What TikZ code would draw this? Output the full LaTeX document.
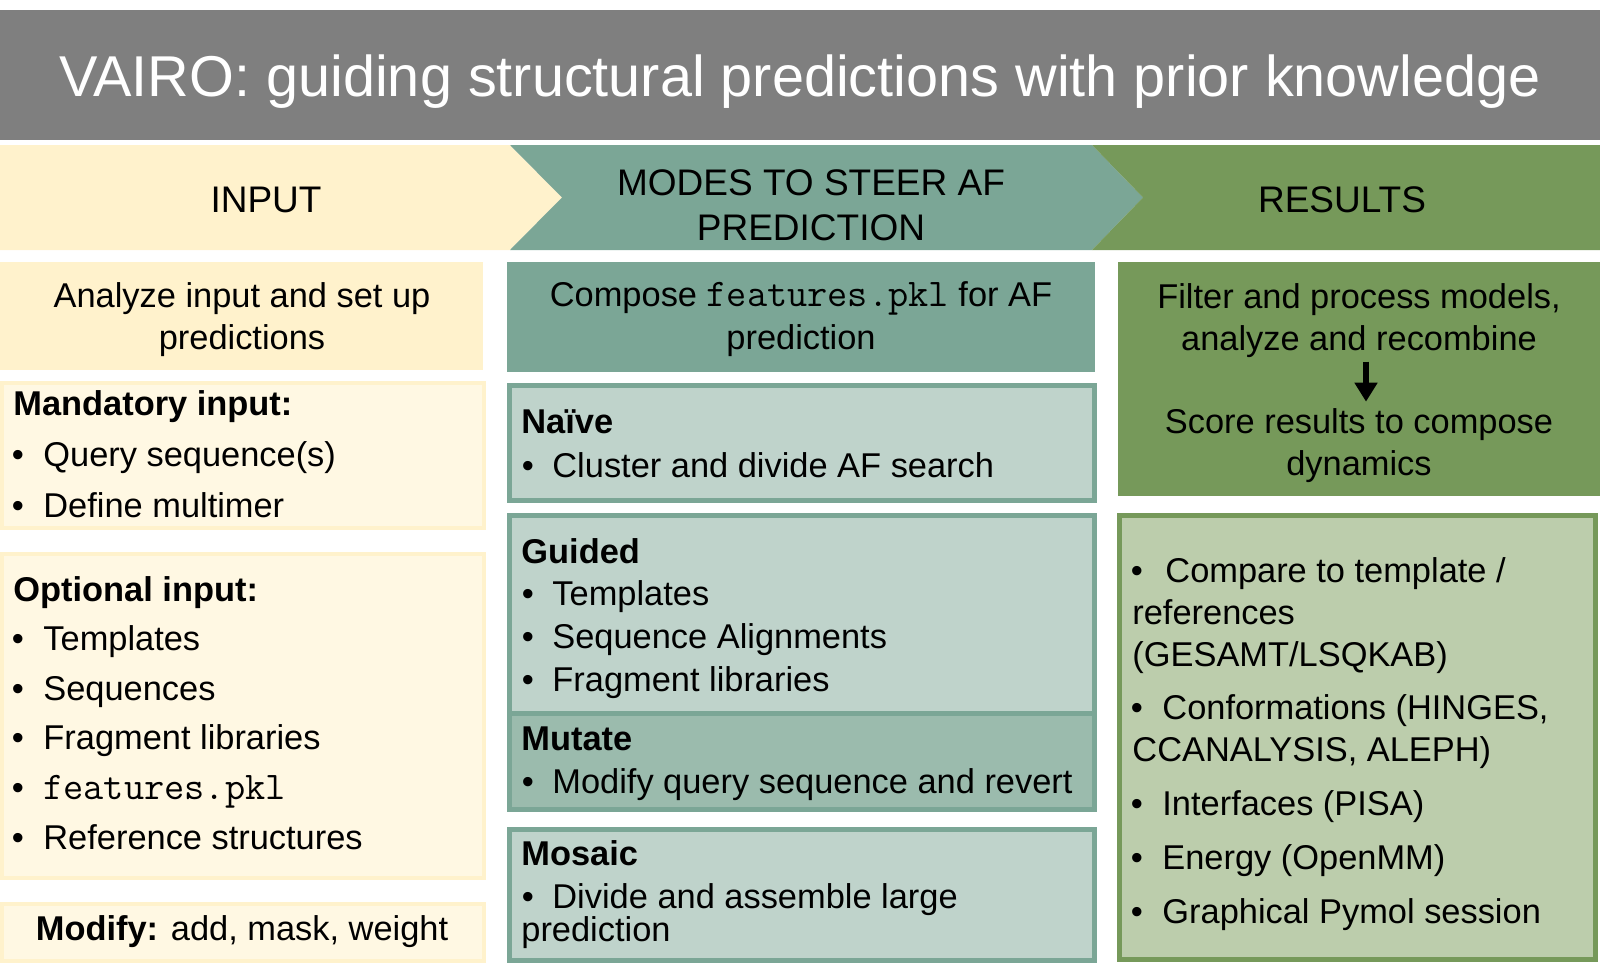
\documentclass[tikz,border=0pt]{standalone}
\usepackage{fontspec}
\setmainfont{Liberation Sans}
\usetikzlibrary{calc, arrows.meta, positioning}

\definecolor{titlegray}{HTML}{7F7F7F}
\definecolor{inyellow}{HTML}{FFF2CC}
\definecolor{paleyellow}{HTML}{FFF8E3}
\definecolor{modeteal}{HTML}{7BA696}
\definecolor{lightteal}{HTML}{BFD3CB}
\definecolor{midteal}{HTML}{9BBBAD}
\definecolor{resgreen}{HTML}{76995A}
\definecolor{lightgreen}{HTML}{BCCDAC}

\newcommand{\bodyfont}{\fontsize{17.2pt}{20.6pt}\selectfont}
\newcommand{\headfont}{\fontsize{18.5pt}{22pt}\selectfont}
\newcommand{\titlefont}{\fontsize{28.8pt}{34pt}\selectfont}
\newcommand{\pkl}{{\fontsize{19.6pt}{20pt}\ttfamily features.pkl}}

\begin{document}
\begin{tikzpicture}[
    x=0.5pt, y=-0.5pt,
    >=Stealth,
    every node/.style={inner sep=0pt, font=\bodyfont},
    txt/.style={anchor=base west},
    ctr/.style={anchor=base},
    bul/.style={anchor=base},
    bold/.style={anchor=base west, font=\bodyfont\bfseries},
    yframe/.style={fill=paleyellow, draw=inyellow, line width=2pt},
    tframe/.style={fill=lightteal, draw=modeteal, line width=2.5pt},
    gframe/.style={fill=lightgreen, draw=resgreen, line width=2.5pt}
]

    \useasboundingbox (0,0) rectangle (1600,979);

    % Title ------------------------------------------------------

    \fill[titlegray] (0,10) rectangle (1600,140);
    \node[ctr, text=white, font=\titlefont] (title) at (800,97)
        {VAIRO: guiding structural predictions with prior knowledge};

    % Chevrons ---------------------------------------------------

    \fill[inyellow] (0,145) -- (510,145) -- (562,197.5) -- (510,250) -- (0,250) -- cycle;
    \fill[modeteal] (510,145) -- (1092,145) -- (1143,197.5) -- (1092,250) -- (510,250) -- (562,197.5) -- cycle;
    \fill[resgreen] (1092,145) -- (1600,145) -- (1600,250) -- (1092,250) -- (1143,197.5) -- cycle;

    \node[ctr, font=\headfont] (hinput) at (266,212) {INPUT};
    \node[ctr, font=\headfont] (hmodes1) at (811,195) {MODES TO STEER AF};
    \node[ctr, font=\headfont] (hmodes2) at (811,240) {PREDICTION};
    \node[ctr, font=\headfont] (hresults) at (1342,212) {RESULTS};

    % Boxes ------------------------------------------------------

    \fill[inyellow] (0,262) rectangle (483,370);
    \draw[yframe] (2,383) rectangle (484,528);
    \draw[yframe] (2,554) rectangle (484,878);
    \draw[yframe] (2,904) rectangle (484,961);

    \fill[modeteal] (507,262) rectangle (1095,372);
    \draw[tframe] (509.5,385.5) rectangle (1094.5,500.5);
    \draw[tframe] (509.5,515.5) rectangle (1094.5,713);
    \draw[tframe, fill=midteal] (509.5,713) rectangle (1094.5,809.5);
    \draw[tframe] (509.5,829.5) rectangle (1094.5,960.5);

    \fill[resgreen] (1118,262) rectangle (1600,496);
    \draw[gframe] (1119.5,515.5) rectangle (1595.5,959.5);

    % Input column
    \node[ctr] (ana1) at (242,307) {Analyze input and set up};
    \node[ctr] (ana2) at (242,349) {predictions};

    \node[bold] (mandhead) at (13,415) {Mandatory input:};
    \foreach \y/\t [count=\i] in {466/Query sequence(s), 517/Define multimer} {
        \node[bul] (manddot\i) at (18,\y) {•};
        \node[txt] (mand\i) at (43,\y) {\t};
    }

    \node[bold] (opthead) at (13,601) {Optional input:};
    \foreach \y/\t [count=\i] in {650/Templates, 700/Sequences, 749/Fragment libraries,
        799/\pkl, 849/Reference structures} {
        \node[bul] (optdot\i) at (18,\y) {•};
        \node[txt] (opt\i) at (43,\y) {\t};
    }

    \node[ctr] (modify) at (242,940) {\textbf{Modify:} add, mask, weight};

    % Modes column
    \node[ctr] (comp1) at (801,306) {Compose \pkl{} for AF};
    \node[ctr] (comp2) at (801,349) {prediction};

    \node[bold] (naivehead) at (521,433) {Naïve};
    \node[bul] (naivedot1) at (528,477) {•};
    \node[txt] (naive1) at (552,477) {Cluster and divide AF search};

    \node[bold] (guidhead) at (521,563) {Guided};
    \foreach \y/\t [count=\i] in {605/Templates, 648/Sequence Alignments, 691/Fragment libraries} {
        \node[bul] (guiddot\i) at (528,\y) {•};
        \node[txt] (guid\i) at (552,\y) {\t};
    }

    \node[bold] (muthead) at (521,750) {Mutate};
    \node[bul] (mutdot1) at (528,793) {•};
    \node[txt] (mut1) at (552,793) {Modify query sequence and revert};

    \node[bold] (moshead) at (521,865) {Mosaic};
    \node[bul] (mosdot1) at (528,908) {•};
    \node[txt] (mos1) at (552,908) {Divide and assemble large};
    \node[txt] (mos2) at (521,941) {prediction};

    % Results column
    \node[ctr] (filt1) at (1359,308) {Filter and process models,};
    \node[ctr] (filt2) at (1359,350) {analyze and recombine};
    \node[ctr] (score1) at (1359,433) {Score results to compose};
    \node[ctr] (score2) at (1359,475) {dynamics};

    \draw[line width=3pt, -{Triangle[width=11pt, length=9.5pt]}]
        ($(filt2.south)+(7,4)$) -- ($(score1.north)+(7,-6)$);

    \node[bul] (resdot1) at (1137,582) {•};
    \node[txt] (res1) at (1165,582) {Compare to template /};
    \node[txt] (res1b) at (1132,624) {references};
    \node[txt] (res1c) at (1132,666) {(GESAMT/LSQKAB)};
    \node[bul] (resdot2) at (1137,719) {•};
    \node[txt] (res2) at (1162,719) {Conformations (HINGES,};
    \node[txt] (res2b) at (1132,761) {CCANALYSIS, ALEPH)};
    \foreach \y/\t [count=\i from 3] in {815/Interfaces (PISA), 869/Energy (OpenMM),
        923/Graphical Pymol session} {
        \node[bul] (resdot\i) at (1137,\y) {•};
        \node[txt] (res\i) at (1162,\y) {\t};
    }

\end{tikzpicture}
\end{document}
